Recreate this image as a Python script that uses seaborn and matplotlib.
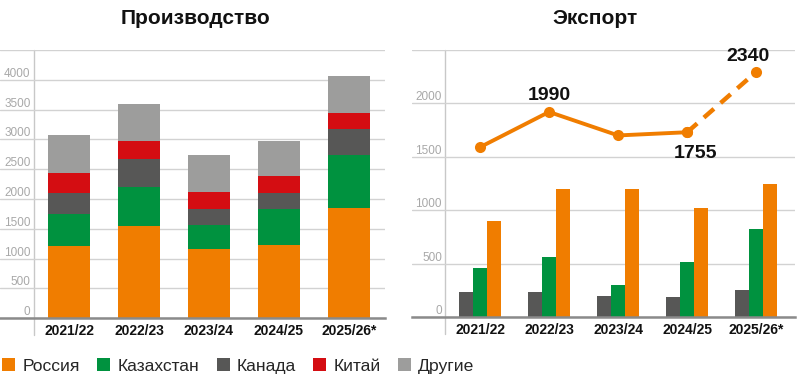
import matplotlib
matplotlib.use("Agg")
import matplotlib.pyplot as plt
from matplotlib.patches import Patch
import numpy as np
import pandas as pd
import seaborn as sns

# %%
years = ["2021/22", "2022/23", "2023/24", "2024/25", "2025/26*"]
countries = ["Россия", "Казахстан", "Канада", "Китай", "Другие"]
colors = ["#F07D00", "#00923F", "#575756", "#D40D12", "#9D9D9C"]

# production, stacked
prod_russia = [1214, 1538, 1158, 1220, 1852]
prod_kaz = [531, 666, 408, 609, 878]
prod_canada = [353, 470, 269, 263, 436]
prod_china = [336, 302, 280, 297, 275]
prod_other = [632, 616, 615, 587, 615]

# export, grouped bars + total line
exp_canada = [235, 235, 197, 185, 257]
exp_kaz = [455, 558, 304, 517, 821]
exp_russia = [903, 1200, 1200, 1025, 1245]
exp_total = [1590, 1920, 1700, 1730, 2295]
exp_labels = ["", "1990", "", "1755", "2340"]

sns.set_theme(style="white")
plt.rcParams["font.family"] = ["Liberation Sans", "DejaVu Sans"]

fig = plt.figure(figsize=(8, 3.76), dpi=100)
ax1 = fig.add_axes([0.0, 0.154, 0.481, 0.713])
ax2 = fig.add_axes([0.515, 0.157, 0.479, 0.710])

grid_c = "#d2d2d2"
tick_c = "#a8a8a8"


def style_axis(ax, ymax, step, xlim):
    ax.set_xlim(*xlim)
    ax.set_ylim(0, ymax)
    ticks = np.arange(0, ymax + 1, step)
    ax.set_yticks(ticks)
    ax.yaxis.grid(True, color=grid_c, lw=1)
    ax.set_axisbelow(True)
    ax.tick_params(axis="y", length=0, labelleft=False)
    ax.tick_params(axis="x", length=0, pad=4)
    for s in ["top", "right", "left"]:
        ax.spines[s].set_visible(False)
    ax.spines["bottom"].set_color("#8a8a8a")
    ax.spines["bottom"].set_linewidth(1.8)
    ax.spines["bottom"].set_zorder(5)
    ax.plot([-0.5, -0.5], [1.0, -0.063], transform=ax.get_xaxis_transform(),
            color="#c8c8c8", lw=1, clip_on=False, zorder=0)
    for t in ticks[:-1]:
        ax.text(-0.55, t, f"{t}", ha="right", va="bottom", fontsize=8.5, color=tick_c)
    for lab in ax.get_xticklabels():
        lab.set_fontweight("bold")
        lab.set_fontsize(10)
        lab.set_color("#111111")
    ax.set_xlabel("")
    ax.set_ylabel("")


# %% production
layers = np.array([prod_russia, prod_kaz, prod_canada, prod_china, prod_other])
cum = layers.cumsum(axis=0)
for i in reversed(range(len(countries))):
    sns.barplot(x=years, y=cum[i], color=colors[i], width=0.6, saturation=1,
                linewidth=0, ax=ax1)
style_axis(ax1, 4500, 500, (-0.986, 4.514))

# %% export
df_exp = pd.DataFrame({
    "year": years * 3,
    "country": ["Канада"] * 5 + ["Казахстан"] * 5 + ["Россия"] * 5,
    "value": exp_canada + exp_kaz + exp_russia,
})
sns.barplot(data=df_exp, x="year", y="value", hue="country",
            hue_order=["Канада", "Казахстан", "Россия"],
            palette=[colors[2], colors[1], colors[0]], width=0.6, saturation=1,
            linewidth=0, legend=False, ax=ax2)
xs = np.arange(len(years))
sns.lineplot(x=xs[:4], y=exp_total[:4], color=colors[0], lw=2.8, marker="o",
             markersize=8, markeredgewidth=0, ax=ax2)
ax2.plot(xs[3:], exp_total[3:], color=colors[0], lw=3.2, ls=(0, (3, 2)),
         marker="o", markersize=8, markeredgewidth=0)
offsets = {1: (0, 12), 3: (6, -15), 4: (-6, 11)}
for i, lab in enumerate(exp_labels):
    if lab:
        dx, dy = offsets[i]
        ax2.annotate(lab, (xs[i], exp_total[i]), xytext=(dx, dy),
                     textcoords="offset points", ha="center", va="center",
                     fontsize=14, fontweight="bold", color="#111111")
style_axis(ax2, 2500, 500, (-0.985, 4.565))

# %% titles and legend
fig.text(0.244, 0.952, "Производство", ha="center", va="center",
         fontsize=15, fontweight="bold", color="#111111")
fig.text(0.744, 0.952, "Экспорт", ha="center", va="center",
         fontsize=15, fontweight="bold", color="#111111")

handles = [Patch(facecolor=c, edgecolor="none") for c in colors]
fig.legend(handles, countries, loc="center left", bbox_to_anchor=(0.003, 0.027),
           ncol=5, frameon=False, fontsize=12.6, handlelength=0.74,
           handleheight=0.74, handletextpad=0.4, columnspacing=1.0,
           borderaxespad=0, borderpad=0)

fig.savefig("out.png", dpi=100)
